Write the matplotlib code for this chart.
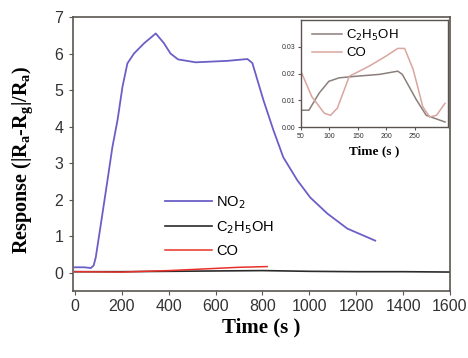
import matplotlib
matplotlib.use("Agg")
import matplotlib.pyplot as plt

# Main chart data
no2_t = [0, 40, 68, 80, 89, 111, 139, 160, 182, 203, 224, 252, 295, 345, 379, 408, 440, 515, 651, 736, 757, 804, 847, 889, 949, 1004, 1077, 1162, 1281]
no2_r = [0.15, 0.15, 0.13, 0.2, 0.42, 1.34, 2.53, 3.44, 4.18, 5.09, 5.73, 6.0, 6.28, 6.55, 6.29, 6.0, 5.84, 5.76, 5.8, 5.85, 5.74, 4.73, 3.9, 3.16, 2.53, 2.06, 1.62, 1.21, 0.88]

eth_t = [0, 200, 400, 600, 800, 1000, 1200, 1400, 1600]
eth_r = [0.03, 0.03, 0.04, 0.05, 0.06, 0.04, 0.03, 0.03, 0.02]

co_t = [0, 200, 400, 600, 700, 820]
co_r = [0.03, 0.02, 0.06, 0.12, 0.15, 0.17]

# Inset data
in_eth_t = [50, 64, 82, 99, 117, 147, 188, 220, 228, 253, 270, 303]
in_eth_r = [0.0063, 0.0063, 0.0127, 0.0171, 0.0184, 0.019, 0.0197, 0.0209, 0.0197, 0.0101, 0.0044, 0.0019]

in_co_t = [50, 69, 91, 102, 114, 135, 170, 200, 220, 232, 247, 264, 276, 288, 303]
in_co_r = [0.0209, 0.0114, 0.0052, 0.0044, 0.0071, 0.019, 0.0228, 0.0266, 0.0294, 0.0294, 0.0216, 0.0076, 0.0038, 0.0044, 0.0089]

x_ticks = [0, 200, 400, 600, 800, 1000, 1200, 1400, 1600]
y_ticks = [0, 1, 2, 3, 4, 5, 6, 7]
in_x_ticks = [50, 100, 150, 200, 250]
in_y_ticks = [0.00, 0.01, 0.02, 0.03]

sans = ["Liberation Sans", "DejaVu Sans"]
serif = ["Liberation Serif", "DejaVu Serif"]
spine_c = "#5a5550"
tick_c = "#333333"

fig = plt.figure(figsize=(4.68, 3.58), dpi=100)
ax = fig.add_axes([0.156, 0.187, 0.8055, 0.7655])
ax.plot(no2_t, no2_r, color="#6b5fc7", lw=1.3, label="NO$_2$")
ax.plot(eth_t, eth_r, color="#2b2b2b", lw=1.2, label="C$_2$H$_5$OH")
ax.plot(co_t, co_r, color="#e8312a", lw=1.1, label="CO")
ax.set_xlim(-8, 1600)
ax.set_ylim(-0.5, 7)
ax.set_xticks(x_ticks)
ax.set_yticks(y_ticks)
ax.set_xticklabels([str(v) for v in x_ticks], family=sans, fontsize=11.5, color=tick_c)
ax.set_yticklabels([str(v) for v in y_ticks], family=sans, fontsize=11.5, color=tick_c)
ax.tick_params(length=3, color=spine_c, pad=4)
ax.tick_params(axis="x", pad=3)
for s in ax.spines.values():
    s.set_color(spine_c)
    s.set_linewidth(1.2)
ax.set_xlabel("Time (s )", family=serif, fontweight="bold", fontsize=15, labelpad=2)
ax.set_ylabel("Response (|R$_\\mathregular{a}$-R$_\\mathregular{g}$|/R$_\\mathregular{a}$)", family=serif,
              fontweight="bold", fontsize=14.5)
ax.yaxis.set_label_coords(-0.10, 0.478)
leg = ax.legend(loc="upper left", bbox_to_anchor=(0.21, 0.4), frameon=False,
                prop={"family": sans, "size": 10.5}, handlelength=3.2, labelspacing=0.55,
                handletextpad=0.3)

ins = fig.add_axes([0.643, 0.645, 0.314, 0.299])
ins.plot(in_eth_t, in_eth_r, color="#8a7f7a", lw=1.1, label="C$_2$H$_5$OH")
ins.plot(in_co_t, in_co_r, color="#d9a59e", lw=1.1, label="CO")
ins.set_xlim(50, 308)
ins.set_ylim(0, 0.04)
ins.set_xticks(in_x_ticks)
ins.set_yticks(in_y_ticks)
ins.set_xticklabels([str(v) for v in in_x_ticks], family=sans, fontsize=5, color=tick_c)
ins.set_yticklabels(["%.2f" % v for v in in_y_ticks], family=sans, fontsize=5, color=tick_c)
ins.tick_params(length=2, color=spine_c, pad=2)
for s in ins.spines.values():
    s.set_color(spine_c)
    s.set_linewidth(1.0)
ins.set_xlabel("Time (s )", family=serif, fontweight="bold", fontsize=9.5, labelpad=4)
ins.legend(loc="upper left", frameon=False, prop={"family": sans, "size": 9.5},
           handlelength=2.3, labelspacing=0.3, handletextpad=0.3,
           borderaxespad=0.2, bbox_to_anchor=(0.02, 1.0))

fig.savefig("out.png", dpi=100)
